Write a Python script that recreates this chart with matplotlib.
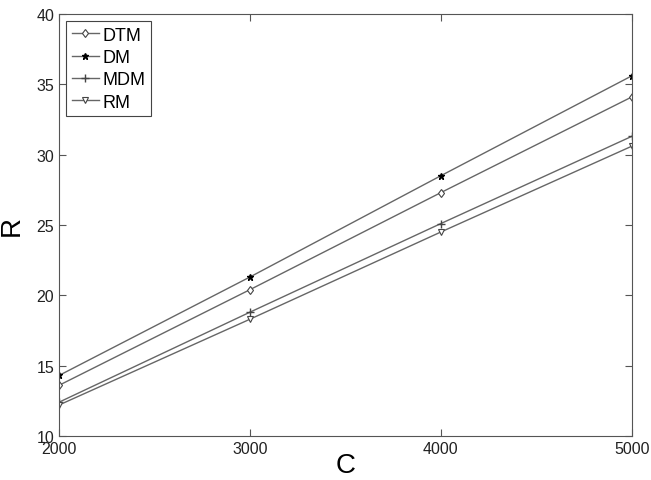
import matplotlib
matplotlib.use("Agg")
import matplotlib.pyplot as plt

plt.rcParams['font.family'] = ['Liberation Sans', 'DejaVu Sans']

C = [2000, 3000, 4000, 5000]
DTM = [13.6, 20.4, 27.3, 34.1]
DM = [14.3, 21.3, 28.5, 35.6]
MDM = [12.4, 18.8, 25.1, 31.3]
RM = [12.2, 18.3, 24.5, 30.6]

fig = plt.figure(figsize=(6.51, 4.81), dpi=100)
ax = fig.add_axes([0.0906, 0.0915, 0.880, 0.8775])

lc = "#666666"
ax.plot(C, DTM, color=lc, lw=1, marker="d", ms=4.5, mfc="white", mec="#444444", mew=0.8, label="DTM")
ax.plot(C, DM, color=lc, lw=1, marker="*", ms=4.5, mfc="black", mec="black", label="DM")
ax.plot(C, MDM, color=lc, lw=1, marker="+", ms=6, mec="#444444", label="MDM")
ax.plot(C, RM, color=lc, lw=1, marker="v", ms=4.5, mfc="white", mec="#444444", mew=0.8, label="RM")

ax.set_xlim(2000, 5000)
ax.set_ylim(10, 40)
ax.set_xticks([2000, 3000, 4000, 5000])
ax.set_yticks([10, 15, 20, 25, 30, 35, 40])
ax.tick_params(direction="in", top=True, right=True, labelsize=11.5, length=5,
               color="#555555", labelcolor="#222222")
for s in ax.spines.values():
    s.set_color("#555555")

ax.set_xlabel("C", fontsize=20, labelpad=-3)
ax.set_ylabel("R", fontsize=20, labelpad=8)

leg = ax.legend(loc="upper left", fontsize=13, handlelength=1.5, handletextpad=0.2,
                borderaxespad=0.4, labelspacing=0.3, fancybox=False, framealpha=1,
                borderpad=0.3)
leg.get_frame().set_edgecolor("#444444")
leg.get_frame().set_linewidth(0.8)

fig.savefig("out.png", dpi=100)
